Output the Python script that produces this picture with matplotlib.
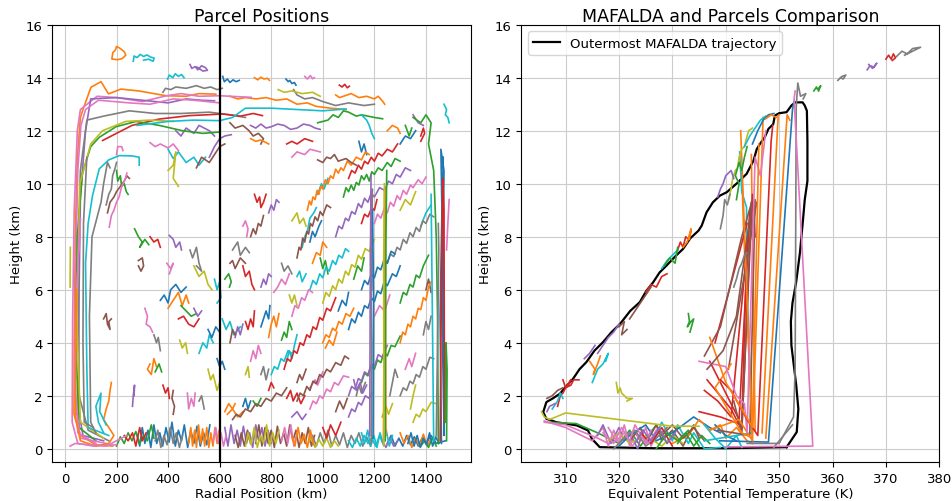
import numpy as np
import matplotlib
matplotlib.use("Agg")
import matplotlib.pyplot as plt

# ---------------- left panel: parcel positions (radius km, height km) ----------------
edge_paths = [
    [(185,0.1),(120,0.15),(60,0.5),(35,1.3),(36,4),(40,8),(48,11),(60,12.5),(70,12.8),(101,13.64),(140,13.85),(169,13.39),(217,13.57),(287,13.5),(392,13.32),(470,13.3),(520,13.4),(585,13.38)],
    [(200,0.15),(110,0.1),(50,0.2),(28,1.0),(30,5),(36,9),(48,12.0),(60,12.8),(125,13.3),(200,13.25),(300,13.1),(394,13.32),(450,13.4),(520,13.3),(601,13.32),(680,13.28),(722,13.26)],
    [(150,0.3),(70,0.5),(52,1.5),(55,6),(60,9.5),(80,12.0),(100,13.2),(200,13.25),(300,13.15),(400,13.05),(470,13.2),(530,13.15),(580,13.13)],
    [(120,0.2),(50,0.6),(40,2.5),(42,7),(50,10.5),(62,12.2),(80,12.8),(130,13.15),(250,13.05),(330,13.0),(420,13.2),(500,13.15),(600,13.05)],
    [(170,0.3),(90,0.7),(55,2.0),(50,7.0),(60,10.5),(85,12.4),(150,12.55),(250,12.75),(350,12.65),(450,12.65),(560,12.7),(640,12.6),(700,12.5)],
    [(146,11.63),(200,11.9),(260,12.2),(366,12.44),(420,12.5),(482,12.57),(550,12.6),(612,12.63),(680,12.55),(730,12.65),(766,12.57)],
    [(120,0.3),(55,0.8),(42,4.0),(48,8.0),(68,10.4),(100,11.4),(133,11.75),(198,12.15),(276,12.35),(366,12.2),(456,12.0),(534,11.9),(600,11.95)],
    [(150,0.4),(60,1.0),(46,5.0),(58,10.0),(100,11.5),(146,12.0),(236,12.35),(330,12.4),(420,12.35)],
    [(280,12.2),(400,12.35),(500,12.4),(600,12.38),(650,12.5),(700,12.85),(800,12.85),(900,12.8),(1000,12.75),(1090,12.82)],
    [(170,0.5),(90,0.8),(85,3),(80,7),(90,8.5),(107,9.55),(133,10.56),(170,10.9),(211,11.06),(260,11.05),(288,11.0),(288,10.7)],
    [(120,0.6),(100,1.0),(95,5),(105,8),(140,9.3),(150,10.0),(165,10.8),(175,10.6)],
    [(160,0.2),(60,0.4),(38,2.0),(45,6.0),(60,8.7),(55,7.5)],
    [(180,2.5),(175,2.2),(170,1.8),(160,1.5),(150,1.1),(170,0.8),(190,0.5),(170,0.2),(120,0.1),(60,0.3),(40,1.2),(45,6)],
    [(20,0.1),(40,0.2),(100,0.15),(160,0.1),(200,0.3),(240,0.5)],
    [(20,6.1),(21,7.6)],
    [(150,0.6),(130,1.0),(120,1.6),(140,2.1),(135,1.4),(160,0.9)],
    [(110,0.8),(75,1.0),(70,4),(72,8.5),(85,11.0)],
]
edge_colors = ["tab:orange", "tab:pink", "tab:purple", "tab:pink", "tab:gray", "tab:red",
               "tab:green", "tab:olive", "tab:cyan", "tab:cyan", "tab:gray", "tab:pink",
               "tab:orange", "tab:pink", "tab:olive", "tab:cyan", "tab:gray"]

upper_paths = [
    [(182,14.72),(186,14.95),(196,15.05),(200,15.18),(212,15.12),(230,14.98),(236,14.85),(222,14.72),(205,14.68),(185,14.7)],
    [(265,14.62),(268,14.82),(280,14.76),(292,14.88),(305,14.8),(318,14.86),(332,14.78),(346,14.74),(342,14.62),(325,14.7),(305,14.66)],
    [(485,14.5),(492,14.35),(505,14.42),(515,14.3),(530,14.45),(545,14.38),(553,14.28),(535,14.25),(512,14.4)],
    [(398,13.95),(405,14.1),(418,14.0),(428,14.15),(440,14.05),(452,14.12),(462,14.0)],
    [(612,14.05),(618,13.85),(630,13.95),(640,13.82),(652,13.92),(664,13.85),(676,13.9)],
    [(735,14.0),(748,13.92),(760,14.02),(772,13.95),(785,13.98),(793,13.9)],
    [(857,13.95),(866,13.85),(872,13.9),(880,13.78),(890,13.82),(896,13.72)],
    [(930,14.05),(940,13.95),(952,14.08),(960,13.96),(967,14.0)],
    [(1064,13.72),(1075,13.65),(1085,13.75),(1095,13.62),(1103,13.68)],
    [(640,13.3),(670,13.2),(700,13.25),(741,13.2),(780,13.25),(820,13.15),(860,13.2),(900,13.0),(940,13.05),(974,12.92),(1030,12.85),(1090,12.8)],
    [(1050,13.35),(1065,13.25),(1080,13.3),(1110,13.4),(1140,13.25),(1170,13.3),(1200,13.2),(1215,13.3),(1233,13.1),(1240,13.0)],
    [(380,13.45),(390,13.6),(410,13.55),(430,13.65),(470,13.6),(510,13.7),(540,13.6),(565,13.65),(590,13.55),(610,13.6)],
    [(887,13.55),(900,13.35),(930,13.2),(960,13.25),(1000,13.1),(1050,12.95),(1100,13.05),(1160,12.95),(1200,13.0)],
    [(827,13.55),(850,13.45),(880,13.5),(920,13.4),(960,13.45),(990,13.3)],
    [(980,12.3),(1020,12.4),(1040,12.6),(1060,12.5),(1080,12.75),(1100,12.7),(1130,12.55),(1150,12.6),(1200,12.5),(1232,12.45)],
    [(720,12.2),(740,12.1),(760,12.25),(780,12.1),(800,12.15),(825,12.25),(850,12.2),(875,12.05),(900,12.1),(925,12.25),(950,12.2),(970,12.1),(990,12.05)],
    [(640,12.3),(660,12.1),(690,12.2),(714,12.0),(730,11.8),(750,11.9),(770,11.7),(760,11.5)],
    [(720,11.7),(740,11.6),(760,11.65),(790,11.5)],
    [(860,11.5),(880,11.6),(900,11.5),(930,11.7),(960,11.6)],
    [(880,11.0),(900,11.2),(930,11.1),(950,11.3),(990,11.2)],
    [(980,10.9),(1000,10.8),(1015,11.0),(1030,10.95),(1045,11.1),(1060,10.85),(1090,10.95),(1110,10.8),(1130,10.7)],
    [(1150,12.6),(1170,12.4),(1180,12.2),(1190,11.9),(1200,11.7)],
    [(430,12.0),(450,11.8),(470,12.1),(500,11.9),(520,12.2),(560,12.0),(580,11.8)],
    [(330,11.55),(350,11.4),(370,11.5),(400,11.35),(420,11.5),(440,11.25)],
    [(400,11.3),(420,10.95),(440,11.2),(470,10.8),(500,11.0),(520,10.7),(545,11.0)],
    [(510,10.6),(530,11.0),(560,10.8),(580,11.1),(600,11.4),(620,11.5)],
    [(560,11.0),(580,11.4),(600,11.7),(620,11.8),(645,11.85)],
    [(400,10.5),(420,10.7),(430,11.2),(420,10.2),(440,9.9)],
    [(200,10.5),(205,10.1),(215,10.3),(220,9.9),(230,10.0),(238,9.7),(245,9.6)],
    [(165,8.9),(175,9.3),(190,9.5),(200,9.7),(215,9.9),(230,10.1),(240,10.3),(250,10.2)],
    [(172,8.36),(180,8.8),(190,9.0),(200,9.3),(210,9.5),(220,9.9),(235,10.2),(240,10.4)],
    [(160,9.2),(170,9.6),(180,9.8),(185,10.3),(195,10.6),(200,10.8)],
    [(200,11.1),(205,11.4),(220,11.4),(225,11.25)],
]
upper_colors = ["tab:orange", "tab:cyan", "tab:purple", "tab:cyan", "tab:blue", "tab:orange", "tab:blue",
                "tab:pink", "tab:red", "tab:orange", "tab:orange", "tab:gray", "tab:gray", "tab:olive",
                "tab:green", "tab:purple", "tab:brown", "tab:orange", "tab:red", "tab:pink", "tab:brown",
                "tab:cyan", "tab:purple", "tab:pink", "tab:cyan", "tab:brown", "tab:purple", "tab:olive",
                "tab:green", "tab:brown", "tab:pink", "tab:gray", "tab:pink"]

blob_paths = [
    [(270,8.3),(285,8.0),(300,7.8),(290,7.6),(310,7.9),(325,7.7)],
    [(330,8.0),(345,7.8),(360,7.9),(370,7.6)],
    [(405,8.05),(420,7.9),(430,7.6),(445,7.8),(452,7.5)],
    [(285,7.1),(300,7.2),(305,6.9),(295,6.7),(285,6.9)],
    [(395,7.0),(410,6.8),(420,7.0),(405,6.6)],
    [(485,7.5),(495,7.2),(510,7.6),(520,7.0),(530,6.7),(510,6.9)],
    [(500,6.9),(520,6.5),(540,6.7),(555,6.2),(570,6.0)],
    [(580,6.4),(590,6.0),(600,6.3),(605,5.7),(590,5.5)],
    [(370,5.6),(385,5.8),(400,5.5),(410,6.0),(430,6.2),(450,5.9),(470,6.1)],
    [(400,5.3),(420,5.6),(440,5.9),(455,5.4),(470,5.8),(480,5.5)],
    [(450,5.4),(470,5.2),(490,5.0),(510,5.1)],
    [(440,4.9),(460,5.0),(480,4.7),(500,4.6),(520,4.9)],
    [(500,5.3),(515,5.0),(530,5.2)],
    [(150,4.9),(160,5.1),(165,4.7),(175,4.5),(170,4.8),(180,4.9)],
    [(310,5.3),(320,5.0),(315,4.7),(330,4.6),(340,4.4)],
    [(345,4.3),(355,4.0),(362,4.2),(370,3.7)],
    [(445,4.1),(455,3.8),(468,4.0),(475,3.6)],
    [(520,3.6),(535,4.0),(550,3.8),(560,4.3),(575,4.0)],
    [(555,4.5),(570,4.2),(585,4.6),(600,4.4)],
    [(330,3.2),(320,3.0),(335,2.8),(345,3.4),(355,3.1)],
    [(350,2.9),(365,3.2),(375,2.9)],
    [(380,2.4),(390,2.1),(400,2.3),(405,1.9)],
    [(262,1.6),(265,2.0),(270,2.4),(268,2.0)],
    [(420,2.2),(415,1.9),(425,1.6),(420,1.3)],
    [(475,2.1),(480,1.5),(490,1.9),(500,1.6),(505,2.1)],
    [(520,1.8),(530,2.0),(540,1.5)],
    [(555,3.0),(565,2.6),(575,2.8),(590,2.2),(600,2.5)],
    [(610,4.9),(625,4.5),(640,4.8),(655,4.3),(680,4.6)],
    [(590,3.4),(600,3.1),(610,3.3),(620,3.0)],
    [(620,1.4),(635,1.7),(650,1.5),(660,1.7)],
    [(620,6.4),(635,6.6),(645,6.3),(638,6.1)],
    [(735,9.6),(745,9.3),(755,9.5),(760,9.1),(770,9.3),(780,9.6)],
    [(790,8.9),(800,9.2),(810,9.0),(820,9.4),(830,9.3)],
    [(720,8.0),(730,8.3),(740,8.1),(750,8.5),(760,8.4),(770,8.8)],
    [(690,8.4),(700,8.6),(710,8.3),(705,8.0)],
    [(650,7.5),(670,7.8),(680,7.3),(700,7.6),(715,7.4)],
    [(880,8.6),(900,8.9),(910,8.5),(925,8.7),(935,8.4)],
    [(920,7.6),(930,8.0),(940,8.2),(950,8.7),(965,8.9),(975,9.1)],
    [(950,7.8),(960,8.2),(970,8.0),(985,8.4),(995,8.6)],
    [(960,7.0),(975,7.4),(990,7.3),(1000,7.8),(1015,7.6)],
    [(990,7.2),(1000,6.8),(1010,7.1),(1020,6.6)],
    [(690,6.9),(700,6.5),(715,6.7),(725,6.2),(735,6.0)],
    [(760,6.1),(770,6.4),(780,6.2),(790,6.6),(800,6.5)],
    [(640,7.0),(650,7.1),(660,6.8),(680,7.2),(700,7.0)],
    [(810,5.9),(825,6.1),(840,6.4),(855,6.2),(870,6.6)],
    [(840,7.0),(850,6.7),(865,6.9),(880,6.6)],
    [(870,5.8),(880,5.5),(890,5.8),(900,5.4)],
    [(900,6.5),(910,6.7),(920,6.3),(935,6.6)],
    [(760,4.6),(770,4.9),(780,5.2),(790,4.9),(795,5.4)],
    [(790,4.2),(800,4.7),(810,5.0),(820,4.6),(830,5.1)],
    [(840,4.1),(850,4.4),(860,4.2),(870,4.8),(880,4.5)],
    [(700,4.8),(710,4.5),(720,4.9),(730,4.6),(735,5.2)],
    [(660,4.2),(670,4.6),(680,4.3),(690,4.7)],
    [(640,4.0),(650,4.5),(660,4.3)],
    [(720,3.3),(730,3.7),(740,3.4),(750,3.9),(760,3.6)],
    [(760,2.8),(770,3.1),(780,2.6),(790,3.0)],
    [(700,2.8),(710,3.1),(715,2.7)],
    [(860,3.3),(870,3.7),(880,3.4),(890,3.9),(900,4.3)],
    [(690,1.6),(700,1.9),(710,1.5),(720,1.8)],
    [(630,1.3),(650,1.5),(670,1.2),(690,1.4)],
    [(730,1.8),(745,1.6),(760,1.9)],
    [(790,2.2),(800,2.5),(810,2.3)],
    [(880,1.2),(900,1.4),(920,1.1),(935,1.3)],
    [(900,2.5),(910,2.8),(920,2.6),(935,3.0)],
    [(950,2.3),(970,2.6),(980,2.4),(1000,2.9)],
    [(1130,2.0),(1140,2.4),(1150,2.1),(1165,2.5)],
    [(1300,9.0),(1320,9.4),(1340,9.2),(1360,9.7)],
    [(1380,8.4),(1400,8.9),(1420,9.2)],
    [(1300,11.5),(1320,11.8),(1340,11.7),(1360,12.0)],
    [(1250,12.0),(1270,12.2),(1290,12.1),(1300,11.9)],
    [(1320,12.2),(1335,11.8),(1345,12.1)],
    [(1380,11.8),(1390,12.1),(1395,11.9),(1380,11.6)],
    [(1350,12.6),(1370,12.3),(1390,12.2)],
    [(1400,6.0),(1410,6.4),(1420,5.9)],
    [(1200,5.0),(1220,5.4),(1240,5.2),(1260,5.8)],
    [(1260,2.0),(1270,2.5),(1280,3.0),(1290,2.7)],
    [(1340,1.5),(1350,2.0),(1360,2.4)],
    [(1470,13.0),(1480,12.8),(1475,12.6),(1485,12.5),(1490,12.3)],
    [(1060,5.2),(1075,5.6),(1090,5.4),(1100,5.9)],
    [(1010,3.8),(1025,4.1),(1040,3.9),(1055,4.4)],
    [(1120,6.4),(1135,6.9),(1150,6.7),(1160,7.2)],
    [(860,1.9),(875,2.2),(885,1.8),(900,2.1),(915,1.7),(930,2.0)],
    [(1120,2.6),(1130,2.2),(1145,2.5),(1155,2.1),(1170,2.4)],
    [(1050,1.4),(1065,1.8),(1080,1.5),(1095,1.9)],
    [(1320,3.0),(1335,3.4),(1345,3.1),(1360,3.6)],
    [(1390,4.3),(1400,4.8),(1410,4.5),(1420,5.0)],
    [(1230,1.2),(1245,1.6),(1255,1.3),(1270,1.7)],
    [(980,9.6),(995,10.0),(1005,9.8),(1020,10.2)],
    [(1140,11.6),(1150,11.2),(1160,11.5),(1170,11.1)],
]

slant_paths = [
    [(940,9.0),(948,9.35),(955,9.2),(962,9.5),(970,9.4),(978,9.75),(985,9.6),(992,9.9),(1000,9.8),(1010,10.15),(1020,10.0),(1030,10.3),(1040,10.2),(1050,10.55),(1060,10.4),(1070,10.6),(1080,10.5),(1095,10.85),(1110,10.7),(1130,11.0),(1150,10.9),(1165,11.2),(1180,11.1)],
    [(1080,9.5),(1090,9.85),(1100,9.7),(1110,9.95),(1120,9.75),(1130,10.05),(1140,9.95),(1150,10.3),(1160,10.15),(1170,10.35),(1180,10.1),(1190,10.45),(1200,10.35),(1215,10.6),(1230,10.5),(1250,10.8),(1265,10.65),(1280,10.95),(1300,10.85)],
    [(1100,10.2),(1112,10.5),(1125,10.4),(1138,10.7),(1150,10.55),(1162,10.85),(1175,10.75),(1188,11.0),(1200,10.85),(1215,11.15),(1230,11.05),(1250,11.3),(1270,11.2),(1290,11.5)],
    [(1050,8.0),(1062,8.4),(1075,8.3),(1088,8.7),(1100,8.6),(1112,8.95),(1125,8.85),(1138,9.25),(1150,9.1),(1162,9.45),(1175,9.3),(1188,9.65),(1200,9.5),(1220,9.85),(1240,9.75),(1255,10.1),(1270,10.0),(1285,10.35),(1300,10.25),(1320,10.6),(1340,10.5)],
    [(900,7.2),(908,7.6),(915,7.5),(922,7.95),(930,7.8),(938,8.2),(945,8.1),(952,8.5),(960,8.4),(970,8.75),(980,8.6),(990,8.95),(1000,8.8),(1015,9.2),(1030,9.1)],
    [(1200,8.5),(1212,8.85),(1225,8.7),(1238,9.05),(1250,8.9),(1262,9.3),(1275,9.15),(1288,9.55),(1300,9.4),(1312,9.75),(1325,9.6),(1340,9.95),(1350,9.85),(1370,10.15),(1385,10.0),(1400,10.25)],
    [(1250,7.0),(1262,7.35),(1275,7.25),(1288,7.6),(1300,7.5),(1312,7.9),(1325,7.75),(1338,8.15),(1350,8.0),(1362,8.35),(1375,8.2),(1388,8.6),(1400,8.5),(1415,8.85),(1430,8.75)],
    [(1000,5.5),(1012,5.9),(1025,5.75),(1038,6.15),(1050,6.0),(1062,6.4),(1075,6.25),(1088,6.7),(1100,6.55),(1112,6.95),(1125,6.85),(1138,7.3),(1150,7.15),(1165,7.55),(1180,7.45),(1200,7.9)],
    [(950,6.0),(962,6.35),(975,6.2),(988,6.6),(1000,6.45),(1012,6.85),(1025,6.7),(1038,7.1),(1050,6.95),(1062,7.3),(1075,7.2),(1088,7.55),(1100,7.45)],
    [(1100,4.5),(1112,4.9),(1125,4.75),(1138,5.15),(1150,5.0),(1162,5.4),(1175,5.3),(1188,5.7),(1200,5.55),(1212,5.95),(1225,5.85),(1238,6.3),(1250,6.15),(1270,6.6),(1285,6.5),(1300,6.9)],
    [(1300,4.0),(1310,4.4),(1320,4.3),(1330,4.7),(1340,4.6),(1350,5.0),(1360,4.9),(1370,5.3),(1380,5.25),(1390,5.7),(1400,5.6),(1410,6.1),(1420,6.3)],
    [(1150,2.5),(1162,2.85),(1175,2.75),(1188,3.1),(1200,3.0),(1212,3.35),(1225,3.25),(1238,3.65),(1250,3.5),(1265,3.9),(1280,3.85),(1300,4.25)],
    [(850,3.0),(862,3.4),(875,3.3),(888,3.7),(900,3.6),(912,4.0),(925,3.9),(938,4.3),(950,4.2),(962,4.6),(975,4.5),(988,4.95),(1000,4.85),(1015,5.3),(1030,5.2),(1050,5.7)],
    [(1100,2.0),(1112,2.35),(1125,2.25),(1138,2.65),(1150,2.55),(1162,2.9),(1175,2.8),(1188,3.2),(1200,3.1),(1215,3.55),(1230,3.45),(1250,3.9)],
    [(900,1.8),(912,2.1),(925,2.0),(938,2.35),(950,2.2),(962,2.55),(975,2.45),(988,2.8),(1000,2.7),(1015,3.0),(1030,2.9),(1050,3.25),(1070,3.15),(1085,3.5),(1100,3.4)],
    [(950,1.5),(962,1.8),(975,1.7),(988,2.0),(1000,1.9),(1015,2.25),(1030,2.15),(1045,2.5),(1060,2.4),(1080,2.75),(1100,2.7)],
    [(1300,2.0),(1312,2.3),(1325,2.2),(1338,2.55),(1350,2.45),(1362,2.8),(1375,2.7),(1388,3.1),(1400,3.0),(1415,3.45),(1430,3.4)],
    [(1350,1.0),(1362,1.3),(1375,1.2),(1388,1.5),(1400,1.4),(1420,1.75),(1440,1.7)],
    [(800,2.8),(812,3.1),(825,3.0),(838,3.4),(850,3.3),(865,3.7),(880,3.6)],
    [(1150,6.0),(1162,6.35),(1175,6.2),(1188,6.6),(1200,6.45),(1212,6.85),(1225,6.75),(1238,7.15),(1250,7.0),(1265,7.45),(1280,7.35)],
    [(1000,4.0),(1012,4.3),(1025,4.2),(1038,4.55),(1050,4.45),(1062,4.8),(1075,4.7),(1090,5.1),(1105,5.0),(1120,5.3)],
    [(1300,5.5),(1312,5.9),(1325,5.8),(1338,6.2),(1350,6.1),(1362,6.55),(1375,6.45),(1390,6.9),(1410,7.3)],
    [(1150,8.5),(1162,8.85),(1175,8.75),(1190,9.1),(1200,9.0),(1210,9.4)],
    [(1100,1.2),(1112,1.5),(1125,1.4),(1138,1.75),(1150,1.65),(1165,2.0),(1180,1.9),(1190,2.1)],
    [(650,1.1),(665,1.3),(680,1.2),(700,1.5),(720,1.4),(740,1.7),(760,1.6),(780,1.9),(800,1.8),(820,2.1),(840,2.0),(860,2.3)],
    [(880,5.0),(892,5.4),(905,5.3),(918,5.7),(930,5.6),(945,6.0),(960,5.9)],
]

surface_paths = [
    [(280,0.5),(290,0.1),(300,0.8),(310,0.2),(322,0.7),(333,0.05),(345,0.9),(356,0.2),(368,0.6),(379,0.1),(392,0.8),(404,0.25),(415,1.0),(428,0.1),(440,0.7),(452,0.3),(463,0.9),(476,0.05),(488,0.7),(500,0.2),(512,0.85),(525,0.1),(538,0.6),(550,0.15),(562,0.9)],
    [(480,0.2),(488,0.8),(495,0.1),(503,0.7),(510,0.05),(518,0.9),(526,0.2),(534,0.75),(542,0.1),(550,0.8),(558,0.05),(566,0.6),(574,0.1),(582,0.8),(590,0.2),(598,0.7)],
    [(200,0.1),(215,0.45),(230,0.2),(245,0.6),(260,0.3),(275,0.65),(290,0.2),(305,0.5),(320,0.3),(335,0.9),(345,0.4)],
    [(230,0.5),(245,0.3),(262,0.6),(275,0.1),(290,0.8),(300,0.3),(315,0.6)],
    [(620,0.8),(632,0.1),(644,0.9),(656,0.2),(668,0.7),(680,0.1),(692,0.85),(704,0.2),(716,0.6),(728,0.05),(740,0.9),(752,0.3),(764,0.8),(776,0.1),(788,0.7),(800,0.2)],
    [(740,0.2),(752,0.9),(764,0.1),(776,0.8),(788,0.2),(800,0.7),(812,0.05),(824,0.85),(836,0.2),(848,0.6),(860,0.1),(872,0.9),(884,0.3),(896,0.7),(908,0.05),(920,0.6),(932,0.2),(944,0.8),(956,0.1),(968,0.5)],
    [(575,0.3),(585,0.8),(595,0.2),(605,0.6),(615,0.1),(625,0.5)],
    [(960,0.5),(975,0.1),(990,0.6),(1005,0.2),(1020,0.7),(1035,0.1),(1050,0.5),(1065,0.15),(1080,0.6),(1095,0.05),(1110,0.5),(1125,0.2),(1140,0.6),(1155,0.1),(1170,0.45),(1185,0.1)],
    [(940,0.1),(955,0.45),(970,0.05),(985,0.35),(1000,0.1),(1015,0.4),(1030,0.05),(1045,0.3),(1060,0.1)],
    [(1100,0.3),(1115,0.05),(1130,0.4),(1145,0.1),(1160,0.5),(1175,0.2),(1190,0.4),(1205,0.1),(1220,0.5),(1235,0.15)],
    [(1250,0.2),(1265,0.5),(1280,0.1),(1295,0.4),(1310,0.1),(1325,0.5),(1340,0.15),(1355,0.45),(1370,0.1),(1385,0.4),(1400,0.2),(1420,0.5),(1440,0.2),(1475,0.3)],
    [(1300,0.6),(1315,0.2),(1330,0.5),(1345,0.05),(1360,0.4),(1375,0.1),(1390,0.55),(1405,0.1),(1420,0.4)],
    [(1380,0.1),(1395,0.3),(1410,0.05),(1425,0.4),(1440,0.1)],
    [(1000,0.8),(1015,0.4),(1030,0.9),(1050,0.5),(1070,1.0)],
    [(1230,0.3),(1245,0.05),(1260,0.4),(1275,0.1),(1290,0.3)],
    [(660,0.5),(672,0.05),(684,0.6),(696,0.1),(708,0.7),(720,0.2)],
    [(840,0.3),(852,0.8),(864,0.2),(876,0.9),(888,0.1),(900,0.6)],
    [(350,0.3),(360,0.7),(372,0.05),(384,0.5),(396,0.15),(408,0.8),(420,0.2),(432,0.6),(444,0.05),(456,0.5)],
    [(700,0.1),(710,0.6),(722,0.15),(734,0.8),(746,0.05),(758,0.5),(770,0.2),(782,0.9),(794,0.1),(806,0.6),(818,0.2),(830,0.7)],
    [(1150,0.6),(1162,0.2),(1174,0.7),(1186,0.1),(1198,0.5),(1210,0.05),(1222,0.6),(1234,0.2),(1246,0.7),(1258,0.1),(1270,0.5)],
    [(1330,0.2),(1342,0.6),(1354,0.1),(1366,0.5),(1378,0.05),(1390,0.4),(1402,0.15),(1414,0.6),(1426,0.1),(1438,0.45),(1450,0.2)],
    [(880,0.5),(892,0.1),(904,0.8),(916,0.2),(928,0.55),(940,0.05),(952,0.7),(964,0.15)],
]

vertical_paths = [
    [(1460,0.2),(1455,5),(1462,9),(1458,11.3),(1470,10.5),(1465,6),(1470,0.5),(1463,8),(1467,11.0)],
    [(1350,12.5),(1380,12.3),(1400,12.6),(1420,12.3),(1410,11.5),(1430,10.5),(1440,8),(1445,5),(1448,0.2)],
    [(1188,0.2),(1190,4.0),(1185,7.5),(1192,9.8),(1190,6)],
    [(1235,0.2),(1238,5),(1240,9.8),(1242,6),(1245,0.5)],
    [(1242,0.3),(1245,8),(1248,10.5)],
    [(1455,0.3),(1460,6),(1465,10.2),(1470,9),(1472,1)],
    [(1480,7.5),(1485,8.5),(1490,9.4)],
    [(1420,9.6),(1425,5),(1430,0.3)],
    [(1195,0.4),(1197,5.5),(1193,9.0)],
    [(1440,0.5),(1445,4),(1450,7.5),(1448,8.5)],
    [(1475,1.0),(1478,4.0),(1482,3.0),(1480,0.3)],
    [(1182,0.5),(1184,6.0),(1187,10.3)],
    [(1237,0.1),(1236,7.0),(1239,10.0)],
]
vertical_colors = ["tab:blue", "tab:green", "tab:gray", "tab:orange", "tab:green", "tab:red",
                   "tab:pink", "tab:cyan", "tab:blue", "tab:gray", "tab:green", "tab:purple", "tab:olive"]

# ---------------- right panel: theta_e (K) vs height (km) ----------------
mafalda_T = [351.4,353.3,353.6,353.2,352.3,352.2,352.5,353.2,353.9,354.5,354.8,355.3,355.3,355.2,354.8,354.4,353.0,
             352.3,351.4,350.0,349.2,348.9,348.0,347.3,346.4,345.8,345.2,343.9,342.0,340.2,338.9,337.6,336.4,335.5,
             334.9,333.4,332.0,330.5,328.9,327.6,326.4,325.1,323.9,322.1,320.2,318.6,317.0,315.4,313.9,312.6,311.4,
             310.1,308.9,307.6,306.4,305.8,306.4,308.3,312.1,314.2,314.9,316.4,326.4,340.0,351.4]
mafalda_h = [0.06,0.63,1.5,2.4,3.9,4.8,5.5,6.3,7.4,8.7,9.4,10.1,11.6,12.75,12.95,13.07,13.07,12.95,12.7,12.66,
             12.57,12.25,12.07,11.75,11.5,11.3,10.87,10.37,10.0,9.68,9.55,9.3,8.92,8.42,8.23,7.95,7.54,7.25,6.91,
             6.65,6.28,5.95,5.53,5.2,4.71,4.4,4.02,3.7,3.27,3.0,2.64,2.35,2.07,1.9,1.76,1.38,1.13,1.0,0.88,0.69,
             0.38,0.06,0.02,0.02,0.06]

diag_paths = [
    [(340.5,9.4),(341,9.8),(341.3,10.2),(341.8,10.5),(342.2,10.6),(342.5,11),(343,11.3),(343.5,11.4),(344,11.8),(344.3,12.0),(345,12.1)],
    [(342,9.4),(342.5,10.0),(341.8,10.3),(342.5,10.8),(343,10.5),(343.5,11.0),(344,11.4)],
    [(338.5,9.5),(339,9.8),(339.5,10.0),(340,10.3),(341,10.5),(341.5,10.2)],
    [(339,8.3),(339.5,8.8),(339.8,9.4),(340.3,9.2),(340.8,9.6)],
    [(343.5,11.4),(344.5,11.8),(345.5,12.1),(346.5,12.4),(347.5,12.55)],
    [(345,11.5),(346,12.0),(347,12.4),(348,12.6),(349,12.65)],
    [(347.5,12.45),(348.5,12.6),(349.5,12.5),(350,12.6)],
    [(331,7.5),(331.5,7.8),(332,7.6),(332.5,8.0),(333,7.9),(333.5,8.2)],
    [(332,7.6),(332.8,7.8),(333.5,8.3),(333.2,7.9)],
    [(328,6.8),(329,7.1),(330,7.3),(331,7.5)],
    [(328.5,6.9),(329.5,7.2),(330.5,7.0),(331,7.6)],
    [(325,5.9),(326,6.2),(327,6.1),(328,6.5),(329,6.6)],
    [(322,4.9),(323,5.2),(324,5.5),(325,5.8),(326,6.1)],
    [(320,4.6),(321,4.8),(320.5,4.3),(321.5,4.5)],
    [(316,3.6),(317,3.9),(318,4.2),(319,4.4),(320,4.7)],
    [(314.5,3.3),(315.5,3.0),(315.2,2.8),(316,3.2),(316.5,3.5)],
    [(315,2.5),(316,3.0),(317,3.2),(318,3.6),(317.5,3.3)],
    [(313.5,3.4),(314.5,3.6),(315.5,3.9)],
    [(310.5,2.4),(311,2.6),(310,2.3),(309.5,2.6)],
    [(308.5,1.6),(309,2.0),(309.5,2.1),(310,2.3),(311,2.4),(311.5,2.6),(312.5,2.6)],
    [(306.5,1.9),(307.5,2.0),(308.5,2.2),(309.5,2.3)],
    [(307.5,1.5),(308.5,1.8),(309,2.1),(309.5,1.9)],
    [(306.5,1.4),(307,1.6),(308,1.7)],
    [(305.5,1.4),(306,1.2),(307,1.1),(310,1.35),(314,1.25),(320,1.1),(330,0.85),(335,0.85)],
    [(333,5.1),(333.2,4.8),(332.8,4.6),(333.5,4.8),(334,4.9),(333.3,4.4)],
    [(319.5,2.5),(319.8,2.1),(320.2,2.3),(320.5,2.1),(321.5,1.9),(322.5,1.9),(321.5,1.8)],
    [(341.5,6.1),(342,6.4),(342.5,6.8),(343,7.0),(343.5,7.3),(344,7.4)],
    [(356.5,13.5),(357,13.65),(357.2,13.55),(357.8,13.7),(357.4,13.5)],
    [(361,13.9),(361.8,14.05),(362.5,14.1),(362,13.95),(361.5,14.0)],
    [(366.5,14.3),(367,14.45),(367.8,14.4),(368.3,14.55),(367.5,14.35),(366.8,14.5)],
    [(370,14.7),(370.5,14.85),(371,14.7),(371.4,14.9),(371.8,14.75),(371.2,14.65)],
    [(372,14.8),(373,15.0),(374,14.9),(375,15.1),(376.5,15.15),(375,15.0),(373.5,14.85)],
]
diag_colors = ["tab:olive", "tab:green", "tab:purple", "tab:gray", "tab:cyan", "tab:blue", "tab:orange",
               "tab:red", "tab:orange", "tab:cyan", "tab:green", "tab:red", "tab:brown", "tab:brown",
               "tab:purple", "tab:orange", "tab:cyan", "tab:purple", "tab:red", "tab:red", "tab:brown",
               "tab:cyan", "tab:purple", "tab:olive", "tab:green", "tab:olive", "tab:gray", "tab:green",
               "tab:gray", "tab:purple", "tab:red", "tab:gray"]

base_paths = [
    [(307,1.0),(312,0.95),(316,0.6),(318,0.4),(320,0.2),(322,0.7),(324,0.1),(327,0.9),(329,0.2),(331,0.8)],
    [(306,1.05),(310,0.8),(315,0.3),(317,0.8),(318,0.1),(319,0.7),(320,0.2),(321,0.9),(322,0.1),(323,0.6),(324,0.3),(325,0.8),(326,0.1),(327,0.5)],
    [(316,0.5),(317,0.9),(318.5,0.2),(320,0.8),(321,0.3),(322,0.6),(323.5,0.0),(324.5,0.7)],
    [(322,0.3),(324,0.8),(325,0.2),(327,0.9),(328,0.3),(330,0.7),(332,0.1),(334,0.9),(335,0.4)],
    [(325,0.2),(327,0.5),(328,1.0),(330,0.3),(331,0.9),(333,0.2),(334,0.6),(336,0.0),(339,0.05)],
    [(318,0.3),(320,0.6),(322,0.2),(325,0.5),(328,0.1),(330,0.5),(332,0.2)],
    [(320,0.1),(322,0.5),(325,0.9),(327,0.3),(330,0.6),(334,1.2),(337,0.8),(339,0.6)],
    [(330,0.2),(333,0.5),(335,1.1),(337,0.7),(339,0.9),(340,0.4),(342,0.8),(344,0.3),(345,0.2)],
    [(319,0.0),(321,0.4),(323,0.7),(325,0.1),(327,0.4),(329,0.8)],
    [(324,0.6),(326,0.2),(328,0.8),(330,0.1)],
    [(327,0.0),(329,0.6),(331,0.3),(333,0.7),(335,0.1)],
    [(336,0.9),(338,0.4),(340,0.0),(342,0.5),(343,0.05)],
    [(338,0.9),(340,0.5),(342,0.3)],
    [(317,0.6),(319,0.2),(320.5,0.8),(322,0.3),(323,0.9),(325,0.2),(326,0.7)],
    [(328,0.5),(330,0.9),(332,0.4),(334,0.8),(336,0.3)],
    [(306,1.0),(310,0.9),(316,0.4),(318,0.2)],
    [(318,0.8),(319.5,0.3),(321,0.6),(322.5,0.1),(324,0.5),(325.5,0.2),(327,0.7)],
    [(323,0.2),(324.5,0.7),(326,0.3),(327.5,0.8),(329,0.2),(330.5,0.6)],
    [(331,0.2),(332.5,0.6),(334,0.1),(335.5,0.5),(337,0.2)],
]
base_colors = ["tab:green", "tab:pink", "tab:purple", "tab:brown", "tab:cyan", "tab:olive", "tab:blue",
               "tab:orange", "tab:gray", "tab:red", "tab:green", "tab:cyan", "tab:blue", "tab:pink",
               "tab:brown", "tab:pink", "tab:pink", "tab:purple", "tab:green"]

fan_paths = [
    [(347.5,0.4),(351.5,12.6),(352,12.4)],
    [(346.8,0.6),(349.8,12.5)],
    [(345.5,0.7),(344.8,11.1)],
    [(345,0.3),(343.3,8.5),(343,10.5)],
    [(338.9,0.3),(348.0,0.25),(352.5,12.8),(352.8,13.1)],
    [(344,0.2),(350,0.2),(352.7,1.2),(353,3),(353.2,12.9),(353.5,13.8),(354,13.3),(355,13.4),(354.5,13.2)],
    [(349,0.05),(352.5,0.9)],
    [(340,0.07),(356.3,0.1),(352.8,13.2),(353,13.5)],
    [(336,0.3),(345,0.6),(343.9,6.5),(343.9,9.1),(343,9.7),(342.6,11.2)],
    [(336.5,2.6),(341,1.5),(343,0.7),(345,9.6),(345.5,8.0)],
    [(337,3.3),(340,2.1),(342.5,1.1),(344.5,9.0)],
    [(336,2.2),(338.5,1.8),(341,1.2),(344.8,9.3)],
    [(338,4.0),(344,8.5)],
    [(335,1.4),(339,1.2),(343,0.9),(344,7.8)],
    [(336,3.5),(339,4.6),(343,8.0),(345,9.4)],
    [(341.5,1.8),(343,0.6),(344.8,9.2)],
    [(338.5,0.7),(344.5,0.5),(345.5,9.4),(345,8.5)],
    [(340.5,3.0),(345.8,9.3)],
    [(341,3.2),(338,2.3),(343,0.6),(345,0.4),(347,12.5)],
    [(337,0.7),(342.5,1.1),(345,0.3),(342.8,12.0)],
    [(335,3.3),(340,3.1),(342,2.0),(343.5,1.7),(344,0.6),(345.5,11.0),(346.5,10.3),(347.5,12.0)],
    [(339,2.6),(341,2.2),(344,1.1),(346,0.5),(348.5,11.6),(348.8,12.2)],
    [(337,4.2),(340,2.5),(343,1.5),(345,0.8),(346.2,11.5)],
    [(336.5,3.0),(339.5,3.7),(342,5.0),(344.5,8.7)],
]
fan_colors = ["tab:orange", "tab:orange", "tab:orange", "tab:orange", "tab:blue", "tab:gray", "tab:gray",
              "tab:pink", "tab:cyan", "tab:red", "tab:red", "tab:red", "tab:red", "tab:red", "tab:brown",
              "tab:brown", "tab:brown", "tab:brown", "tab:orange", "tab:orange", "tab:pink", "tab:red",
              "tab:orange", "tab:brown"]

fig = plt.figure(figsize=(9.53, 5.02), dpi=100)
ax1 = fig.add_axes([0.0546, 0.0777, 0.4397, 0.8711])
ax2 = fig.add_axes([0.547, 0.0777, 0.4386, 0.8711])

# left
for group in [surface_paths, blob_paths, slant_paths]:
    for p in group:
        r, z = zip(*p)
        ax1.plot(r, z, lw=1.2)
for p, c in zip(upper_paths, upper_colors):
    r, z = zip(*p)
    ax1.plot(r, z, color=c, lw=1.2)
for p, c in zip(edge_paths, edge_colors):
    r, z = zip(*p)
    ax1.plot(r, z, color=c, lw=1.2)
for p, c in zip(vertical_paths, vertical_colors):
    r, z = zip(*p)
    ax1.plot(r, z, color=c, lw=1.2)
ax1.axvline(600, color="black", lw=1.6)
ax1.set_xlim(-50, 1575)
ax1.set_ylim(-0.5, 16)
ax1.set_xticks(np.arange(0, 1401, 200))
ax1.set_yticks(np.arange(0, 17, 2))
ax1.grid(True, color="#cccccc", lw=0.8)
ax1.set_axisbelow(True)
ax1.set_title("Parcel Positions", fontsize=12.5, pad=3)
ax1.set_xlabel("Radial Position (km)", fontsize=9.5, labelpad=2)
ax1.set_ylabel("Height (km)", fontsize=9.5, labelpad=2)
ax1.tick_params(labelsize=9.5)

# right
for p, c in zip(base_paths, base_colors):
    t, z = zip(*p)
    ax2.plot(t, z, color=c, lw=1.2)
for p, c in zip(fan_paths, fan_colors):
    t, z = zip(*p)
    ax2.plot(t, z, color=c, lw=1.2)
for p, c in zip(diag_paths, diag_colors):
    t, z = zip(*p)
    ax2.plot(t, z, color=c, lw=1.2)
ax2.plot(mafalda_T, mafalda_h, color="black", lw=1.6, label="Outermost MAFALDA trajectory", zorder=1.9)
ax2.set_xlim(301.7, 380)
ax2.set_ylim(-0.5, 16)
ax2.set_xticks(np.arange(310, 381, 10))
ax2.set_yticks(np.arange(0, 17, 2))
ax2.grid(True, color="#cccccc", lw=0.8)
ax2.set_axisbelow(True)
ax2.set_title("MAFALDA and Parcels Comparison", fontsize=12.5, pad=3)
ax2.set_xlabel("Equivalent Potential Temperature (K)", fontsize=9.5, labelpad=2)
ax2.set_ylabel("Height (km)", fontsize=9.5, labelpad=2)
ax2.tick_params(labelsize=9.5)
ax2.legend(loc="upper left", fontsize=9.5)

fig.savefig("out.png", dpi=100)
